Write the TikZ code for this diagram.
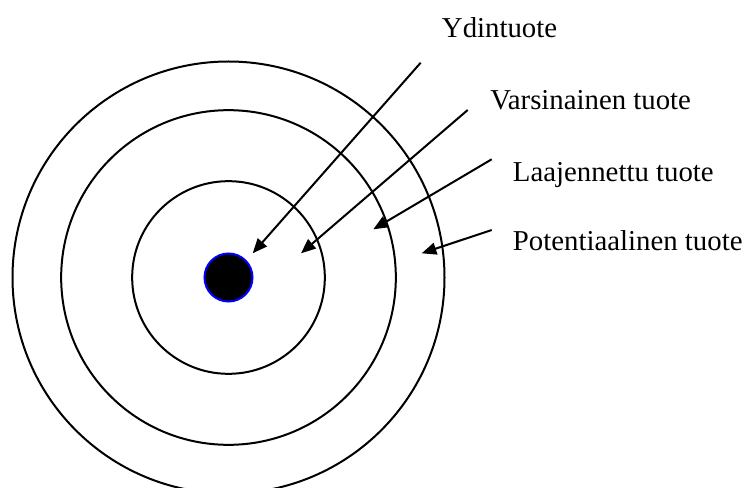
\documentclass[tikz,border=0pt]{standalone}
\usepackage{fontspec}
\setmainfont{Liberation Serif}
\usetikzlibrary{arrows.meta}
\begin{document}
\begin{tikzpicture}[x=0.75pt,y=-0.75pt,
  ring/.style={circle,draw=black,line width=1.5pt,inner sep=0pt},
  lbl/.style={anchor=base west,inner sep=0pt,font=\fontsize{21.6}{26}\selectfont},
  pointer/.style={line width=1.5pt,-{Triangle[length=11pt,width=9pt]}}]
\useasboundingbox (0,0) rectangle (750,488);
\coordinate (c) at (228.5,277.5);
\node[ring,minimum size=324pt] (r3) at (c) {};
\node[ring,minimum size=251pt] (r2) at (c) {};
\node[ring,minimum size=144.5pt] (r1) at (c) {};
\node[circle,fill=black,draw=blue,line width=1.5pt,inner sep=0pt,minimum size=36pt] (core) at (c) {};
\node[lbl] (t1) at (441.7,37.5) {Ydintuote};
\node[lbl] (t2) at (490,110) {Varsinainen tuote};
\node[lbl] (t3) at (512.7,181.7) {Laajennettu tuote};
\node[lbl] (t4) at (512.7,250.7) {Potentiaalinen tuote};
\coordinate (s1) at (420.7,62.7);
\coordinate (e1) at (252.7,253.3);
\coordinate (s2) at (467.7,110);
\coordinate (e2) at (301,253.3);
\coordinate (s3) at (491.7,159.3);
\coordinate (e3) at (373.3,229.3);
\coordinate (s4) at (491.7,230);
\coordinate (e4) at (421.7,253.3);
\draw[pointer] (s1) -- (e1);
\draw[pointer] (s2) -- (e2);
\draw[pointer] (s3) -- (e3);
\draw[pointer] (s4) -- (e4);
\end{tikzpicture}
\end{document}
